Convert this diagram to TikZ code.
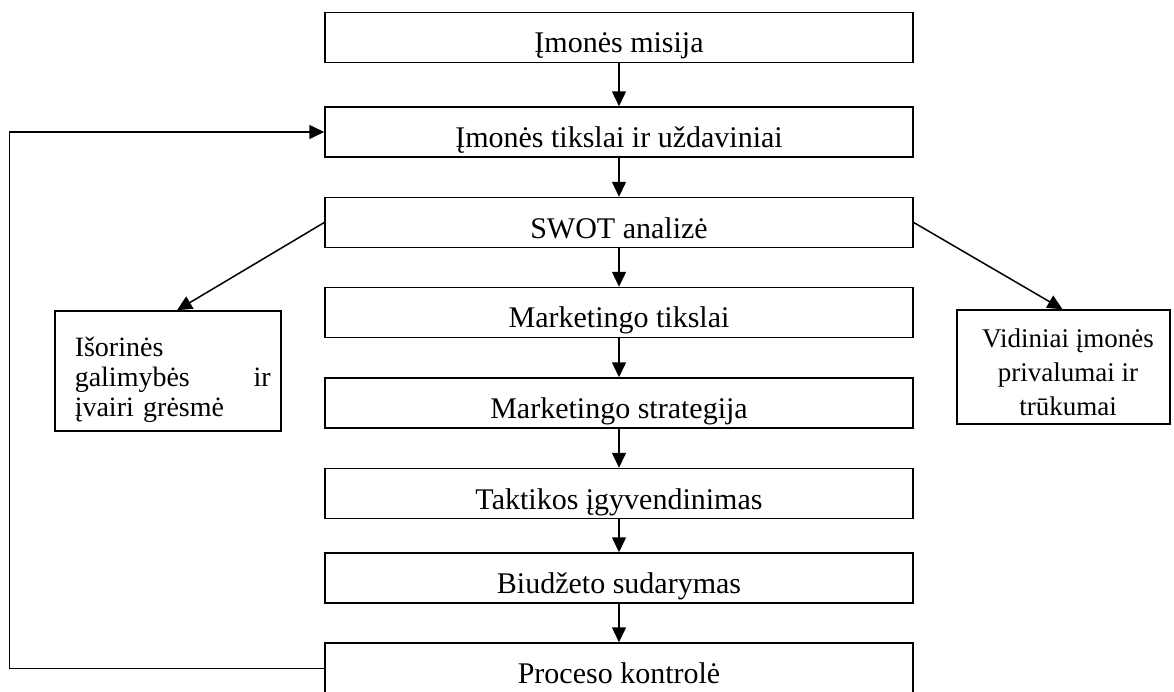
\documentclass[tikz,border=0pt]{standalone}
\usepackage{fontspec}
\setmainfont{Liberation Serif}
\usetikzlibrary{arrows.meta}

\begin{document}
\begin{tikzpicture}[x=1pt, y=-1pt, line width=1.5pt,
  stage/.style={draw, rectangle, minimum width=588pt, minimum height=50pt, inner sep=0pt},
  sidebox/.style={draw, rectangle, inner sep=0pt},
  stagetext/.style={anchor=base, inner sep=0pt, font=\fontsize{30}{34}\selectfont},
  flow/.style={-{Triangle[length=15pt, width=14pt]}}]

\useasboundingbox (0,0) rectangle (1174,691);

% main column of stages
\node[stage] (b1) at (619,37.5) {};
\node[stage] (b2) at (619,132) {};
\node[stage] (b3) at (619,222.5) {};
\node[stage] (b4) at (619,312.5) {};
\node[stage] (b5) at (619,403) {};
\node[stage] (b6) at (619,493.5) {};
\node[stage] (b7) at (619,578) {};
\node[stage, minimum height=51pt] (b8) at (619,668.5) {};

\node[stagetext] (t1) at (619,52) {Įmonės misija};
\node[stagetext] (t2) at (619,147) {Įmonės tikslai ir uždaviniai};
\node[stagetext] (t3) at (619,238) {SWOT analizė};
\node[stagetext] (t4) at (619,327) {Marketingo tikslai};
\node[stagetext] (t5) at (619,418) {Marketingo strategija};
\node[stagetext] (t6) at (619,509) {Taktikos įgyvendinimas};
\node[stagetext] (t7) at (619,593) {Biudžeto sudarymas};
\node[stagetext] (t8) at (619,683) {Proceso kontrolė};

% side boxes of the SWOT analysis
\node[sidebox, minimum width=226pt, minimum height=120pt] (lb) at (168,371) {};
\node[sidebox, minimum width=213pt, minimum height=114pt] (rb) at (1063.5,367) {};

\node[anchor=north west, inner sep=0pt, text width=196pt, align=left,
      font=\fontsize{28}{30}\selectfont] (lt) at (74,336)
  {Išorinės\\ galimybės\hfill ir\\ įvairi grėsmė};
\node[anchor=north, inner sep=0pt, align=center,
      font=\fontsize{27}{34}\selectfont] (rt) at (1068,328)
  {Vidiniai įmonės\\ privalumai ir\\ trūkumai};

% connectors
\foreach \a/\b in {b1/b2, b2/b3, b3/b4, b4/b5, b5/b6, b6/b7, b7/b8}
  \draw[flow] (\a.south) -- (\b.north);

\draw[flow] (b3.west) -- ([xshift=9pt]lb.north);
\draw[flow] (b3.east) -- ([xshift=-1pt]rb.north);

% feedback loop from control back to the objectives
\draw[flow] (b8.west) -- ++(-315,0) |- (b2.west);
\end{tikzpicture}
\end{document}
